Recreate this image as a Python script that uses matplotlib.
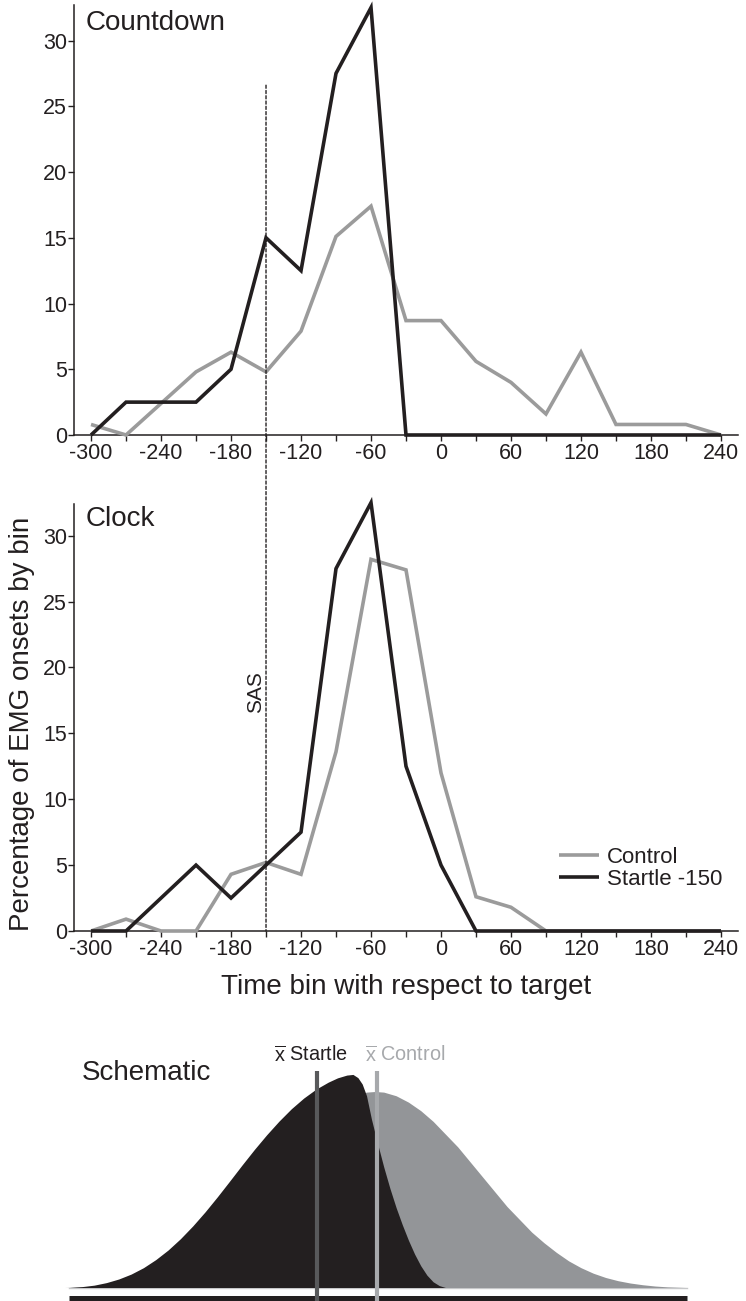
"""Onset-time distributions for countdown and clock conditions, plus schematic."""

import matplotlib.pyplot as plt
from matplotlib.patches import ConnectionPatch
from matplotlib.ticker import MultipleLocator

plt.rcParams["font.family"] = ["Liberation Sans", "DejaVu Sans"]
plt.rcParams["axes.unicode_minus"] = False
plt.rcParams["mathtext.fontset"] = "custom"
plt.rcParams["mathtext.rm"] = "Liberation Sans"

INK = "#231f20"
GREY_LINE = "#9b9b9b"
GREY_FILL = "#939598"
MEAN_STARTLE = "#58595b"
MEAN_CONTROL = "#a7a9ac"

# time bins (ms) with respect to target
time_bins = [-300, -270, -240, -210, -180, -150, -120, -90, -60, -30,
             0, 30, 60, 90, 120, 150, 180, 210, 240]

# percentage of EMG onsets by bin
countdown_control = [0.8, 0.0, 2.4, 4.8, 6.3, 4.8, 7.9, 15.1, 17.4, 8.7,
                     8.7, 5.6, 4.0, 1.6, 6.3, 0.8, 0.8, 0.8, 0.0]
countdown_startle = [0.0, 2.5, 2.5, 2.5, 5.0, 15.0, 12.5, 27.5, 32.5, 0.0,
                     0.0, 0.0, 0.0, 0.0, 0.0, 0.0, 0.0, 0.0, 0.0]
clock_control = [0.0, 0.9, 0.0, 0.0, 4.3, 5.2, 4.3, 13.6, 28.2, 27.4,
                 12.0, 2.6, 1.8, 0.0, 0.0, 0.0, 0.0, 0.0, 0.0]
clock_startle = [0.0, 0.0, 2.5, 5.0, 2.5, 5.0, 7.5, 27.5, 32.5, 12.5,
                 5.0, 0.0, 0.0, 0.0, 0.0, 0.0, 0.0, 0.0, 0.0]

sas_time = -150

# schematic outlines (arbitrary units)
startle_x = [0, 2, 4, 6, 8, 10, 12, 14, 16, 18, 20, 22, 24, 26, 28, 30, 32,
             34, 36, 38, 40, 42, 43.5, 45, 46, 46.8, 47.5, 48.2, 49, 50, 51,
             52, 53, 54, 55, 56, 57, 58, 59, 60, 61]
startle_y = [0.0, 0.004, 0.011, 0.023, 0.040, 0.063, 0.093, 0.131, 0.176,
             0.229, 0.289, 0.355, 0.426, 0.5, 0.575, 0.648, 0.717, 0.781,
             0.839, 0.889, 0.931, 0.964, 0.984, 0.997, 1.0, 0.985, 0.955,
             0.9, 0.79, 0.675, 0.565, 0.465, 0.375, 0.295, 0.222, 0.157,
             0.102, 0.058, 0.027, 0.009, 0.0]
control_x = [-0.8, 2.2, 4.2, 6.2, 8.2, 10.2, 12.2, 14.2, 16.2, 18.2, 20.2,
             22.2, 24.2, 26.2, 28.2, 30.2, 32.2, 34.2, 36.2, 38.2, 40.2, 42.2,
             44.2, 46.2, 48.2, 49.6, 51, 53, 55, 57, 59, 61, 63, 65, 67, 69,
             71, 73, 75, 77, 79, 81, 83, 85, 87, 89, 91, 93, 95, 97, 100]
control_y = [0.0, 0.003, 0.007, 0.013, 0.021, 0.032, 0.047, 0.067, 0.093,
             0.125, 0.165, 0.21, 0.26, 0.32, 0.38, 0.45, 0.52, 0.59, 0.66,
             0.72, 0.78, 0.83, 0.87, 0.9, 0.917, 0.92, 0.917, 0.9, 0.87,
             0.83, 0.78, 0.72, 0.66, 0.59, 0.52, 0.45, 0.38, 0.32, 0.26,
             0.21, 0.165, 0.125, 0.093, 0.067, 0.047, 0.032, 0.021, 0.013,
             0.007, 0.003, 0.0]
startle_mean = 40.1
control_mean = 49.8

FIG_W, FIG_H = 746, 1301


def px_axes(fig, left, top, right, bottom):
    """Add an Axes given its edges in pixels from the top-left corner."""
    return fig.add_axes([left / FIG_W, 1 - bottom / FIG_H,
                         (right - left) / FIG_W, (bottom - top) / FIG_H])


def style_panel(ax, ymax):
    ax.set_xlim(-314.6, 254.6)
    ax.set_ylim(0, ymax)
    for side in ("top", "right"):
        ax.spines[side].set_visible(False)
    for side in ("left", "bottom"):
        ax.spines[side].set_linewidth(1.1)
        ax.spines[side].set_color(INK)
    ax.xaxis.set_major_locator(MultipleLocator(60))
    ax.xaxis.set_minor_locator(MultipleLocator(30))
    ax.yaxis.set_major_locator(MultipleLocator(5))
    ax.tick_params(which="both", direction="out", length=4, width=1.0,
                   color=INK, labelcolor=INK, labelsize=15.5, pad=1.5)
    ax.tick_params(axis="y", pad=1)


def draw_panel(ax, control, startle, title, title_y):
    ax.plot(time_bins, control, color=GREY_LINE, lw=2.6, label="Control",
            solid_joinstyle="miter", solid_capstyle="butt", clip_on=False, zorder=3)
    ax.plot(time_bins, startle, color=INK, lw=2.6, label="Startle -150",
            solid_joinstyle="miter", solid_capstyle="butt", clip_on=False, zorder=4)
    ax.text(0.018, title_y, title, transform=ax.transAxes, fontsize=20,
            color=INK, va="baseline", ha="left")


def main():
    fig = plt.figure(figsize=(FIG_W / 100, FIG_H / 100), dpi=100)

    ax1 = px_axes(fig, 74, 5, 738, 435)
    ax2 = px_axes(fig, 74, 504, 738, 931)
    style_panel(ax1, 32.7)
    style_panel(ax2, 32.4)

    draw_panel(ax1, countdown_control, countdown_startle, "Countdown", 0.942)
    draw_panel(ax2, clock_control, clock_startle, "Clock", 0.948)

    ax2.set_xlabel("Time bin with respect to target", fontsize=20, color=INK,
                   labelpad=10)
    ax2.set_ylabel("Percentage of EMG onsets by bin", fontsize=20, color=INK)
    ax2.yaxis.set_label_coords(-0.058, 0.485)

    leg = ax2.legend(loc="center left", bbox_to_anchor=(0.730, 0.146),
                     frameon=False, fontsize=16, handlelength=1.8,
                     handletextpad=0.36, labelspacing=0.05, borderpad=0,
                     borderaxespad=0)
    for txt in leg.get_texts():
        txt.set_color(INK)

    # SAS marker spanning both panels
    sas = ConnectionPatch(xyA=(sas_time, 26.6), xyB=(sas_time, 0),
                          coordsA=ax1.transData, coordsB=ax2.transData,
                          color=INK, lw=1.0, linestyle=(0, (2.2, 1.6)),
                          shrinkA=0, shrinkB=0, zorder=5)
    fig.add_artist(sas)
    ax2.text(sas_time - 8.6, 16.55, "SAS", rotation=90, fontsize=15,
             color=INK, ha="center", va="bottom")

    # schematic
    ax3 = px_axes(fig, 0, 1040, 746, 1301)
    ax3.set_xlim(-11.36, 109.7)
    ax3.set_ylim(-0.061, 1.164)
    ax3.axis("off")
    ax3.fill(control_x, control_y, color=GREY_FILL, lw=0, zorder=1)
    ax3.fill(startle_x, startle_y, color=INK, lw=0, zorder=2)
    ax3.plot([-0.16, 100.2], [0, 0], color="#c7c8ca", lw=1.0, zorder=0)
    ax3.plot([-0.16, 100.2], [-0.045, -0.045], color=INK, lw=3.6,
             solid_capstyle="butt", zorder=3)
    ax3.plot([startle_mean, startle_mean], [-0.1, 1.02], color=MEAN_STARTLE,
             lw=3.0, solid_capstyle="butt", zorder=4, clip_on=False)
    ax3.plot([control_mean, control_mean], [-0.1, 1.02], color=MEAN_CONTROL,
             lw=3.0, solid_capstyle="butt", zorder=4, clip_on=False)
    ax3.text(1.95, 1.01, "Schematic", fontsize=20, color=INK,
             ha="left", va="center")
    ax3.text(39.1, 1.09, r"$\overline{\mathrm{x}}$ Startle", fontsize=14.3,
             color=INK, ha="center", va="center")
    ax3.text(47.9, 1.09, r"$\overline{\mathrm{x}}$ Control", fontsize=14.3,
             color=MEAN_CONTROL, ha="left", va="center")

    fig.savefig("out.png", dpi=100)


if __name__ == "__main__":
    main()
